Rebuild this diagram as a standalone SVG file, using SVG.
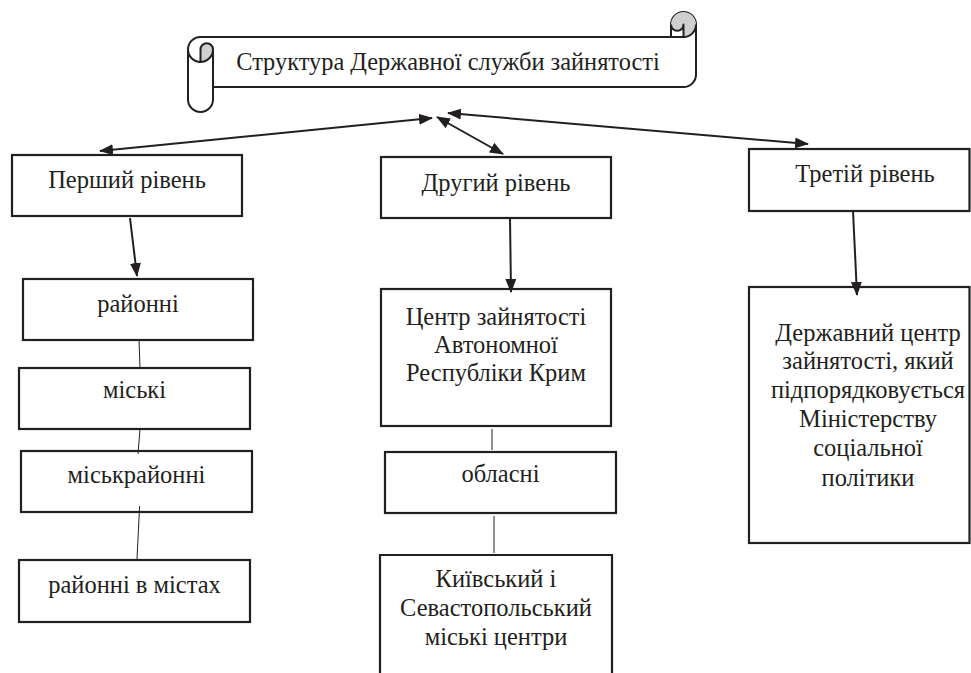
<svg xmlns="http://www.w3.org/2000/svg" width="971" height="673" viewBox="0 0 971 673">
  <style>
    .box { fill: #ffffff; stroke: #231f20; stroke-width: 2.2; }
    text { font-family: 'Liberation Serif', Tinos, 'Times New Roman', serif; font-size: 24.5px; fill: #231f20; text-anchor: middle; }
    .title { font-size: 24.4px; }
    .arrow { fill: none; stroke: #231f20; stroke-width: 2; }
    .thin { fill: none; stroke: #231f20; stroke-width: 1; }
    .scroll { fill: #ffffff; stroke: #231f20; stroke-width: 2; stroke-linejoin: round; }
    .scrollLine { fill: none; stroke: #231f20; stroke-width: 2; stroke-linejoin: round; }
    .shade { fill: #cfcfcf; stroke: none; }
  </style>
  <defs>
    <marker id="ah" viewBox="0 0 14 11" refX="13" refY="5.5" markerWidth="14" markerHeight="11" markerUnits="userSpaceOnUse" orient="auto-start-reverse">
      <path d="M0,0 L14,5.5 L0,11 Z" fill="#231f20"/>
    </marker>
  </defs>

  <rect width="971" height="673" fill="#ffffff"/>

  <g id="title">
    <path class="scroll" d="M188,49.5 A12.5,12.5 0 0 1 200.5,37 L671,37 L671,24.5 A12.5,12.5 0 0 1 696,24.5 L696,74.5 A12.5,12.5 0 0 1 683.5,87 L213,87 L213,99.5 A12.5,12.5 0 0 1 188,99.5 Z"/>
    <path class="shade" d="M200.5,62 A12.5,12.5 0 0 0 213,49.5 A6.25,6.25 0 0 0 200.5,49.5 Z"/>
    <path class="shade" d="M683.5,37 A12.5,12.5 0 1 0 671,24.5 A6.25,6.25 0 0 0 683.5,24.5 Z"/>
    <path class="scrollLine" d="M200.5,62 L200.5,49.5 A6.25,6.25 0 0 1 213,49.5 A12.5,12.5 0 0 1 188,49.5 M213,49.5 L213,87"/>
    <path class="scrollLine" d="M671,37 L683.5,37 A12.5,12.5 0 0 0 696,24.5 M683.5,37 L683.5,24.5 A6.25,6.25 0 0 1 671,24.5"/>
    <text class="title" x="448" y="70">Структура Державної служби зайнятості</text>
  </g>

  <g id="level1">
    <rect class="box" x="12" y="155" width="230" height="61"/>
    <text x="127" y="188">Перший рівень</text>
  </g>
  <g id="level2">
    <rect class="box" x="381" y="157" width="230" height="61"/>
    <text x="496" y="191">Другий рівень</text>
  </g>
  <g id="level3">
    <rect class="box" x="749" y="149" width="220.5" height="62"/>
    <text x="865" y="182">Третій рівень</text>
  </g>

  <g id="rayonni">
    <rect class="box" x="23" y="279" width="230" height="61"/>
    <text x="138" y="312">районні</text>
  </g>
  <g id="miski">
    <rect class="box" x="19" y="368" width="231" height="61"/>
    <text x="134.5" y="398">міські</text>
  </g>
  <g id="miskrayonni">
    <rect class="box" x="21" y="451" width="231" height="61"/>
    <text x="136.5" y="483">міськрайонні</text>
  </g>
  <g id="rayonni-v-mistakh">
    <rect class="box" x="19" y="560" width="231" height="62"/>
    <text x="134.5" y="593">районні в містах</text>
  </g>

  <g id="tsentr-krym">
    <rect class="box" x="381" y="289" width="230" height="137"/>
    <text x="496" y="325">Центр зайнятості</text>
    <text x="496" y="353">Автономної</text>
    <text x="496" y="381">Республіки Крим</text>
  </g>
  <g id="oblasni">
    <rect class="box" x="385" y="452" width="231" height="61"/>
    <text x="500.5" y="482">обласні</text>
  </g>
  <g id="kyiv-sevastopol">
    <path class="box" d="M380,680 L380,555 L612,555 L612,680"/>
    <text x="496" y="587">Київський і</text>
    <text x="496" y="616">Севастопольський</text>
    <text x="496" y="645">міські центри</text>
  </g>

  <g id="derzhavnyi-tsentr">
    <rect class="box" x="749" y="287" width="220.5" height="256"/>
    <text x="868" y="341">Державний центр</text>
    <text x="868" y="369">зайнятості, який</text>
    <text x="868" y="398">підпорядковується</text>
    <text x="868" y="427">Міністерству</text>
    <text x="868" y="456">соціальної</text>
    <text x="868" y="486">політики</text>
  </g>

  <g id="connectors">
    <line class="arrow" x1="100" y1="151" x2="432" y2="118" marker-start="url(#ah)" marker-end="url(#ah)"/>
    <line class="arrow" x1="437" y1="117" x2="503" y2="154" marker-start="url(#ah)" marker-end="url(#ah)"/>
    <line class="arrow" x1="448" y1="113" x2="808" y2="144" marker-start="url(#ah)" marker-end="url(#ah)"/>
    <line class="arrow" x1="130" y1="218" x2="137" y2="276" marker-end="url(#ah)"/>
    <line class="arrow" x1="510" y1="218" x2="511" y2="292" marker-end="url(#ah)"/>
    <line class="arrow" x1="853" y1="211" x2="857" y2="295" marker-end="url(#ah)"/>
    <line class="thin" x1="139" y1="340" x2="140" y2="368"/>
    <line class="thin" x1="140" y1="429" x2="138" y2="454"/>
    <line class="thin" x1="139.6" y1="506" x2="137" y2="559"/>
    <line class="thin" x1="492" y1="429" x2="492" y2="450"/>
    <line class="thin" x1="494" y1="516" x2="494" y2="553"/>
  </g>
</svg>
